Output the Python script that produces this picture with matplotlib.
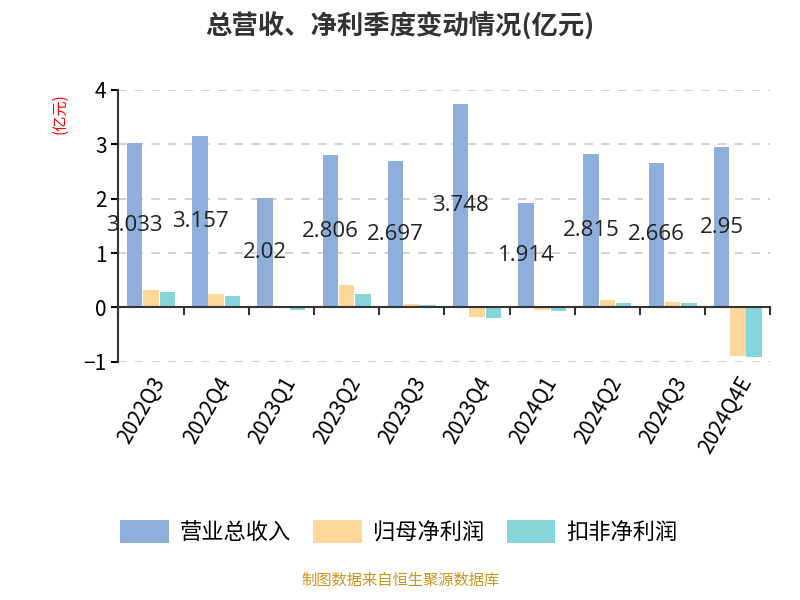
import matplotlib.pyplot as plt
import numpy as np

plt.rcParams['font.family'] = ['Noto Sans CJK SC', 'DejaVu Sans']

quarters = ['2022Q3', '2022Q4', '2023Q1', '2023Q2', '2023Q3', '2023Q4',
            '2024Q1', '2024Q2', '2024Q3', '2024Q4E']
revenue = [3.033, 3.157, 2.02, 2.806, 2.697, 3.748, 1.914, 2.815, 2.666, 2.95]
net_profit = [0.32, 0.245, -0.01, 0.42, 0.06, -0.18, -0.04, 0.135, 0.10, -0.89]
net_profit_ded = [0.29, 0.21, -0.04, 0.245, 0.04, -0.20, -0.06, 0.085, 0.08, -0.91]
rev_labels = ['3.033', '3.157', '2.02', '2.806', '2.697', '3.748', '1.914', '2.815', '2.666', '2.95']

fig = plt.figure(figsize=(8, 6), dpi=100)
ax = fig.add_axes([0.148, 0.397, 0.815, 0.453])

x = np.arange(len(quarters))
w = 0.25
ax.bar(x - w, revenue, w * 0.95, color='#8eafdc', label='营业总收入')
ax.bar(x, net_profit, w * 0.95, color='#fed89a', label='归母净利润')
ax.bar(x + w, net_profit_ded, w * 0.95, color='#86d5d8', label='扣非净利润')

for xi, v, t in zip(x, revenue, rev_labels):
    ax.text(xi - w, v / 2, t, ha='center', va='center', fontsize=16, color='#222222',
            family='Open Sans')

ax.set_ylim(-1, 4)
ax.set_xlim(-0.5, len(quarters) - 0.5)
ax.set_yticks([-1, 0, 1, 2, 3, 4])
ax.tick_params(axis='y', labelsize=15, length=5, width=1.5)
ax.yaxis.grid(True, linestyle=(0, (5, 5)), color='#c8c8c8', linewidth=1.2)
ax.set_axisbelow(True)
for s in ['top', 'right', 'bottom']:
    ax.spines[s].set_visible(False)
ax.spines['left'].set_linewidth(1.5)
ax.spines['left'].set_color('#333333')
ax.axhline(0, color='#333333', linewidth=1.5)
ax.set_xticks(x)
ax.set_xticklabels(quarters, rotation=60, ha='right', rotation_mode='anchor', fontsize=15)
ax.tick_params(axis='x', length=0, pad=8)
for b in np.arange(-0.5, len(quarters), 1):
    ax.plot([b, b], [0, -0.12], color='#333333', linewidth=1.5, clip_on=False)

fig.text(0.075, 0.81, '(亿元)', rotation=90, color='red', fontsize=11, ha='center', va='center')
fig.text(0.5, 0.955, '总营收、净利季度变动情况(亿元)', ha='center', va='center',
         fontsize=19, fontweight='bold', color='#333333')
ax.legend(loc='upper center', bbox_to_anchor=(0.43, -0.51), ncol=3, frameon=False,
          fontsize=16, handlelength=2.2, handleheight=1.2, columnspacing=1.0, handletextpad=0.5)
fig.text(0.5, 0.018, '制图数据来自恒生聚源数据库', ha='center', va='bottom',
         fontsize=11, color='#c8961e')

fig.savefig('out.png', dpi=100)
